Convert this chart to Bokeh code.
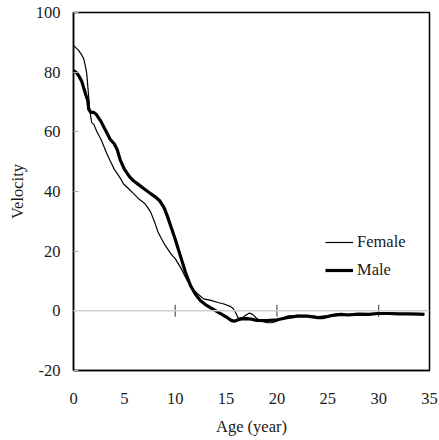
from bokeh.plotting import figure
from bokeh.models import Legend, LegendItem, Span, FixedTicker
from bokeh.embed import file_html
from bokeh.resources import INLINE

# Velocity curves by age
male_age = [0, 0.3, 0.5, 0.8, 1.0, 1.2, 1.4, 1.5, 1.7, 2.0, 2.2, 2.5, 2.7, 3.0, 3.3, 3.6,
            4.0, 4.3, 4.6, 5.0, 5.5, 5.9, 6.4, 6.9, 7.5, 8.0, 8.5, 8.9, 9.2, 9.6, 10.0,
            10.5, 11.0, 11.5, 12.0, 12.5, 13.0, 13.5, 14.0, 14.5, 15.0, 15.5, 15.8, 16.2,
            16.5, 17.0, 17.5, 18.0, 19.0, 20.0, 21.0, 22.0, 23.0, 24.0, 24.5, 25.5, 26.3,
            27.0, 28.0, 29.0, 30.0, 31.0, 32.0, 33.0, 34.0, 34.5]
male_vel = [80.5, 79.8, 78.9, 77, 74.8, 72.5, 70.5, 67.5, 66.5, 66.5, 66, 64.5, 63.5, 61.5,
            59.5, 57.5, 56, 54, 50.5, 47.5, 45, 43.6, 42.3, 41, 39.5, 38.3, 36.8, 34.6, 32,
            28, 24, 18.5, 13, 8.5, 5.5, 3.4, 2, 1, 0, -1, -2, -3.2, -3.5, -3, -2.7, -2.6,
            -2.8, -3.2, -3.3, -3, -2.3, -1.8, -1.8, -2.3, -2.3, -1.5, -1.2, -1.4, -1.1,
            -1.2, -0.9, -0.9, -1, -1, -1.1, -1.2]

female_age = [0, 0.5, 0.8, 1.0, 1.2, 1.3, 1.4, 1.5, 1.6, 1.8, 2.0, 2.3, 2.7, 3.0, 3.3,
              3.65, 4.0, 4.3, 4.6, 4.9, 5.4, 5.9, 6.5, 7.0, 7.3, 7.6, 8.0, 8.3, 8.6, 9.0,
              9.6, 10.0, 10.55, 11.2, 11.7, 12.2, 12.8, 13.5, 14.2, 14.8, 15.4, 15.7, 16.0,
              16.2, 16.6, 17.0, 17.3, 17.6, 18.0, 18.5, 19.0, 19.5, 20.0, 20.5, 21.0, 22.0,
              23.0, 24.0, 25.0, 26.0, 27.0, 28.0, 29.0, 30.0, 31.0, 32.0, 33.0, 34.0, 34.5]
female_vel = [89, 87.3, 85.8, 84.5, 81.5, 79.5, 75.5, 71.5, 67, 63, 62.5, 60, 57.5, 55,
              52.5, 50, 47.5, 46, 44.5, 42.6, 41, 39.3, 37.3, 36, 34.6, 33, 29.5, 26.5,
              24.5, 22, 19, 17.5, 14.4, 10, 7.5, 5.7, 4, 3.5, 2.8, 2.3, 1.5, 0.8, -1, -2.5,
              -2.3, -1.3, -0.7, -1.2, -2.5, -3.5, -4, -4, -3.5, -2.5, -1.8, -1.5, -1.6,
              -1.9, -1.6, -1, -1.2, -1, -1, -0.8, -0.8, -0.9, -0.9, -1, -1]

x_ticks = [0, 5, 10, 15, 20, 25, 30, 35]
y_ticks = [-20, 0, 20, 40, 60, 80, 100]
zero_line_ticks = [10, 20, 30]

FONT = "Liberation Serif"

p = figure(width=439, height=440, x_range=(0, 35), y_range=(-20, 100),
           output_backend="svg", toolbar_location=None,
           min_border_left=73, min_border_right=10, min_border_top=12,
           min_border_bottom=70)

p.grid.visible = False
p.background_fill_color = "white"
p.border_fill_color = "white"
p.outline_line_color = "black"
p.outline_line_width = 1.5

# zero reference line with its tick marks
p.add_layout(Span(location=0, dimension="width", line_color="#cfcfcf", line_width=1.5))
p.segment(x0=zero_line_ticks, x1=zero_line_ticks, y0=[-2] * 3, y1=[2] * 3,
          line_color="#555555", line_width=1.2)

female = p.line(female_age, female_vel, line_color="black", line_width=1.2)
male = p.line(male_age, male_vel, line_color="black", line_width=3.2)

p.xaxis.ticker = FixedTicker(ticks=x_ticks)
p.yaxis.ticker = FixedTicker(ticks=y_ticks)
p.yaxis.major_label_overrides = {t: str(t) for t in y_ticks}
p.xaxis.axis_label = "Age (year)"
p.yaxis.axis_label = "Velocity"
for ax in (p.xaxis[0], p.yaxis[0]):
    ax.axis_line_color = "black"
    ax.axis_line_width = 1.5
    ax.major_label_text_font = FONT
    ax.major_label_text_font_size = "16.5px"
    ax.major_label_text_color = "#1a1a1a"
    ax.axis_label_text_font = FONT
    ax.axis_label_text_font_size = "16.5px"
    ax.axis_label_text_font_style = "normal"
    ax.axis_label_text_color = "#1a1a1a"
    ax.minor_tick_line_color = None

p.xaxis.major_tick_line_color = None
p.xaxis.major_label_standoff = 16
p.xaxis.axis_label_standoff = 10
p.yaxis.major_tick_in = 5
p.yaxis.major_tick_out = 0
p.yaxis.major_tick_line_color = "#aaaaaa"
p.yaxis.major_label_standoff = 13
p.yaxis.axis_label_standoff = 6

legend = Legend(items=[LegendItem(label="Female", renderers=[female]),
                       LegendItem(label="Male", renderers=[male])],
                location=(252, 90), orientation="vertical")
legend.label_text_font = FONT
legend.label_text_font_size = "16.5px"
legend.label_text_color = "#1a1a1a"
legend.glyph_width = 28
legend.glyph_height = 20
legend.label_height = 20
legend.label_standoff = 4
legend.spacing = 8
legend.padding = 0
legend.margin = 0
legend.border_line_color = None
legend.background_fill_alpha = 0
p.add_layout(legend)

open("out.html", "w").write(file_html(p, INLINE))
